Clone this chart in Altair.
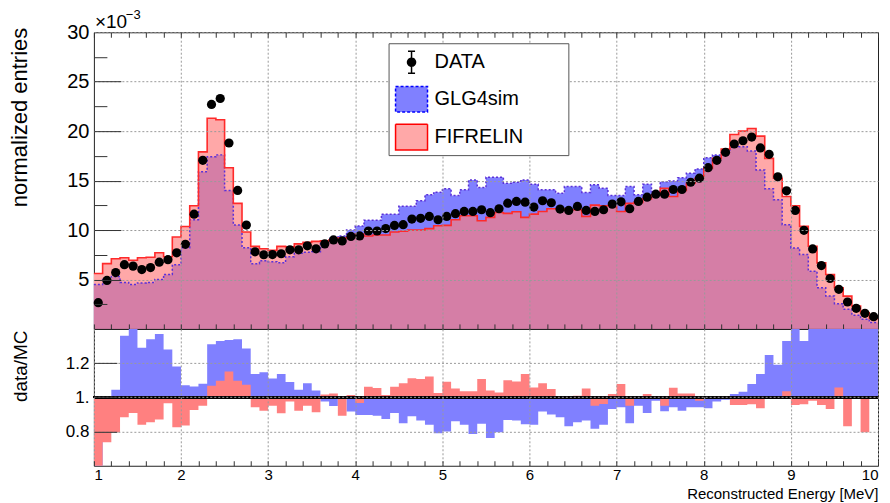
import altair as alt
import pandas as pd

# ---------------- data ----------------
N_BINS = 90
E_MIN, E_MAX = 1.0, 10.0
BIN_LO = [round(E_MIN + 0.1 * i, 1) for i in range(N_BINS)]
BIN_CENTER = [round(lo + 0.05, 2) for lo in BIN_LO]

# normalized entries (x 1e-3)
DATA = [2.65, 4.9, 5.7, 6.5, 6.35, 6.0, 6.2, 6.75, 7.0, 7.7,
        8.55, 11.6, 17.05, 22.7, 23.3, 18.8, 14.0, 10.5, 7.8, 7.5,
        7.52, 7.6, 8.0, 8.0, 8.4, 8.1, 8.6, 9.0, 8.9, 9.35,
        9.4, 9.9, 9.9, 10.15, 10.47, 10.54, 11.11, 11.18, 11.38, 11.04,
        11.38, 11.65, 11.88, 11.88, 12.05, 11.75, 12.15, 12.72, 12.89, 12.82,
        12.32, 12.96, 12.76, 12.12, 11.98, 12.39, 11.98, 11.88, 12.05, 12.62,
        12.85, 12.15, 12.89, 13.32, 13.63, 13.63, 14.1, 14.1, 14.83, 15.24,
        16.31, 17.05, 17.86, 18.7, 19.03, 19.4, 18.3, 17.66, 15.38, 13.97,
        11.98, 9.97, 8.09, 6.41, 5.1, 4.0, 2.72, 2.08, 1.58, 1.24]

GLG4SIM = [4.5, 5.0, 5.3, 4.7, 4.5, 4.65, 4.7, 5.0, 5.5, 6.5,
           8.2, 11.05, 15.9, 17.4, 17.6, 14.0, 10.5, 8.2, 6.6, 6.9,
           6.8, 6.7, 7.3, 7.65, 7.75, 7.8, 8.8, 9.2, 9.4, 10.0,
           10.4, 11.0, 11.0, 11.6, 11.6, 12.4, 12.4, 12.96, 13.56, 13.83,
           14.17, 13.5, 14.07, 15.07, 14.3, 15.34, 15.34, 14.73, 14.83, 15.07,
           14.63, 14.07, 14.07, 13.73, 14.4, 14.4, 13.8, 14.57, 14.23, 13.5,
           13.5, 14.4, 13.56, 14.63, 13.9, 14.87, 14.97, 15.29, 15.74, 16.18,
           17.3, 17.59, 18.1, 18.36, 18.43, 18.0, 16.08, 14.17, 13.06, 10.54,
           8.19, 7.52, 5.83, 4.16, 3.32, 2.55, 1.98, 1.38, 0.98, 0.64]

FIFRELIN = [5.6, 6.6, 7.1, 7.2, 6.95, 7.2, 7.25, 7.7, 7.3, 9.3,
            10.35, 12.45, 17.9, 21.3, 21.15, 16.3, 12.7, 9.8, 8.35, 8.1,
            7.95, 8.35, 8.3, 8.6, 8.75, 8.85, 8.9, 9.0, 9.2, 9.25,
            9.6, 9.4, 9.5, 9.5, 9.8, 9.87, 10.0, 10.0, 10.14, 10.44,
            10.47, 11.04, 11.45, 11.45, 10.94, 11.28, 11.78, 11.68, 11.85, 11.28,
            11.61, 11.88, 12.15, 12.15, 12.05, 12.05, 11.38, 12.52, 12.45, 12.48,
            11.88, 12.7, 12.8, 13.15, 13.56, 14.23, 13.39, 13.99, 14.73, 15.24,
            16.25, 17.25, 18.18, 19.66, 20.0, 20.27, 19.5, 17.25, 15.24, 13.39,
            12.45, 10.37, 8.36, 6.68, 5.5, 4.16, 3.32, 2.32, 1.64, 1.07]

# data/MC ratios
RATIO_GLG4SIM = [0.59, 0.97, 1.045, 1.36, 1.45, 1.29, 1.34, 1.37, 1.28, 1.18,
                 1.07, 1.063, 1.08, 1.31, 1.33, 1.335, 1.34, 1.285, 1.136, 1.146,
                 1.11, 1.136, 1.09, 1.045, 1.083, 1.04, 0.975, 0.95, 0.99, 0.917,
                 0.897, 0.897, 0.893, 0.874, 0.909, 0.849, 0.889, 0.864, 0.84, 0.79,
                 0.80, 0.86, 0.84, 0.786, 0.845, 0.763, 0.796, 0.868, 0.864, 0.843,
                 0.84, 0.917, 0.90, 0.884, 0.831, 0.854, 0.864, 0.816, 0.84, 0.932,
                 0.942, 0.849, 0.951, 0.909, 0.98, 0.918, 0.942, 0.922, 0.942, 0.942,
                 0.936, 0.975, 0.986, 1.019, 1.033, 1.078, 1.136, 1.247, 1.19, 1.33,
                 1.45, 1.33, 1.45, 1.45, 1.45, 1.45, 1.45, 1.45, 1.45, 1.45]

RATIO_FIFRELIN = [0.47, 0.738, 0.796, 0.883, 0.909, 0.84, 0.854, 0.87, 0.965, 0.825,
                  0.835, 0.926, 0.951, 1.068, 1.097, 1.151, 1.097, 1.074, 0.942, 0.922,
                  0.951, 0.907, 0.975, 0.922, 0.951, 0.913, 1.016, 1.023, 0.893, 1.014,
                  0.967, 1.062, 1.054, 1.014, 1.062, 1.083, 1.111, 1.107, 1.122, 1.025,
                  1.091, 1.052, 1.035, 1.035, 1.107, 1.04, 1.029, 1.10, 1.093, 1.136,
                  1.058, 1.083, 1.049, 1.004, 1.006, 1.01, 1.052, 0.951, 0.961, 1.019,
                  1.078, 0.951, 1.004, 1.019, 1.0, 0.951, 1.056, 1.023, 1.023, 0.98,
                  0.996, 0.99, 0.99, 0.955, 0.955, 0.959, 0.936, 1.0, 0.99, 1.035,
                  0.955, 0.959, 0.98, 0.955, 0.932, 1.058, 0.831, 1.006, 0.796, 1.0]

SERIES = ["DATA", "GLG4sim", "FIFRELIN"]
EXPONENT_BASE = "×10"
EXPONENT_POWER = "−3"

X_LABEL_TICKS = list(range(1, 11))
TOP_Y_LABELS = [5, 10, 15, 20, 25, 30]
TOP_Y_MAJOR = [5, 10, 15, 20, 25]
TOP_Y_MINOR = [2.5, 7.5, 12.5, 17.5, 22.5, 27.5]
X_MINOR = [round(1.0 + 0.2 * i, 1) for i in range(46)]
BOT_Y_LABELS = [0.8, 1.0, 1.2]

# ---------------- tables ----------------
edges = BIN_LO + [E_MAX]
step_df = pd.DataFrame({
    "E": edges,
    "glg": GLG4SIM + [GLG4SIM[-1]],
    "fif": FIFRELIN + [FIFRELIN[-1]],
    "rg": RATIO_GLG4SIM + [RATIO_GLG4SIM[-1]],
    "rf": RATIO_FIFRELIN + [RATIO_FIFRELIN[-1]],
})
pts_df = pd.DataFrame({"E": BIN_CENTER, "data": DATA})
legend_df = pd.DataFrame({"series": SERIES})

FONT = "Liberation Sans"
W, H_TOP, H_BOT = 785, 297, 137

xs = alt.Scale(domain=[E_MIN, E_MAX], nice=False, zero=False)
ys_top = alt.Scale(domain=[0, 30], nice=False)
ys_bot = alt.Scale(domain=[0.6, 1.4], nice=False, zero=False)

TICK_COLOR = "#333333"
GRID = dict(grid=True, gridDash=[2, 2], gridColor="#9a9a9a", gridWidth=1)


def tick_axis(orient, values, size):
    return alt.Axis(orient=orient, values=values, offset=-size, tickSize=size,
                    labels=False, domain=False, grid=False, title=None, minExtent=0,
                    ticks=True, tickColor=TICK_COLOR, tickWidth=1, zindex=1)


# ---------------- top panel ----------------
base_top = alt.Chart(step_df)

glg_fill = base_top.mark_area(interpolate="step-after", color="#8080ff", opacity=1).encode(
    x=alt.X("E:Q", scale=xs,
            axis=alt.Axis(orient="bottom", values=list(range(2, 10)), labels=False, ticks=False,
                          domain=False, title=None, zindex=1, minExtent=0, **GRID)),
    y=alt.Y("glg:Q", scale=ys_top,
            axis=alt.Axis(orient="left", values=TOP_Y_LABELS, ticks=False, domain=False,
                          labelFontSize=20, labelPadding=5, labelFont=FONT, labelColor="black",
                          title="normalized entries", titleFontSize=22, titleFont=FONT,
                          titleFontWeight="normal", titleColor="black",
                          titleAnchor="end", titleAlign="right", titleAngle=270,
                          titleBaseline="middle", titleX=-74, titleY=-5, minExtent=0,
                          zindex=1, **GRID)),
)

fif_fill = base_top.mark_area(interpolate="step-after", color="#ffa8a8", opacity=1).encode(
    x=alt.X("E:Q", scale=xs, axis=tick_axis("bottom", X_MINOR, 5)),
    y=alt.Y("fif:Q", scale=ys_top, axis=tick_axis("left", TOP_Y_MAJOR, 27)),
)

overlap_fill = base_top.transform_calculate(ov="min(datum.glg, datum.fif)").mark_area(
    interpolate="step-after", color="#d57ea6", opacity=1).encode(
    x=alt.X("E:Q", scale=xs, axis=tick_axis("top", X_MINOR, 5)),
    y=alt.Y("ov:Q", scale=ys_top, axis=tick_axis("left", TOP_Y_MINOR, 13)),
)

glg_line = base_top.mark_line(interpolate="step-after", color="#5a30d8", strokeDash=[2, 2],
                              strokeWidth=1.5).encode(
    x=alt.X("E:Q", scale=xs, axis=None),
    y=alt.Y("glg:Q", scale=ys_top, axis=None),
)

fif_line = base_top.mark_line(interpolate="step-after", color="#ff2a2a", strokeWidth=1.6).encode(
    x=alt.X("E:Q", scale=xs, axis=None),
    y=alt.Y("fif:Q", scale=ys_top, axis=None),
)

points = alt.Chart(pts_df).mark_circle(size=85, color="black", opacity=1).encode(
    x=alt.X("E:Q", scale=xs, axis=None),
    y=alt.Y("data:Q", scale=ys_top, axis=None),
)

# exponent label of the y axis (x10^-3), drawn above the frame
expo_base = alt.Chart(pd.DataFrame({"t": [EXPONENT_BASE]})).mark_text(
    align="left", baseline="alphabetic", fontSize=19, font=FONT, color="black").encode(
    x=alt.value(1), y=alt.value(-4), text="t:N")
expo_power = alt.Chart(pd.DataFrame({"t": [EXPONENT_POWER]})).mark_text(
    align="left", baseline="alphabetic", fontSize=13, font=FONT, color="black").encode(
    x=alt.value(32), y=alt.value(-13), text="t:N")

# legend symbols (unit square -1..1 maps to 32 px); the trailing move-to widens the box
BOX_EXTEND = "M9.5,0"
DATA_SYMBOL = ("M-0.25,0A0.25,0.25,0,1,0,0.25,0A0.25,0.25,0,1,0,-0.25,0Z"
               "M0,-0.69L0,0.69M-0.22,-0.69L0.22,-0.69M-0.22,0.69L0.22,0.69" + BOX_EXTEND)
BOX_SYMBOL = "M-1,-0.8L1,-0.8L1,0.8L-1,0.8Z" + BOX_EXTEND

leg_props = dict(title=None, orient="none", legendX=295, legendY=11, direction="vertical",
                 symbolSize=1024, symbolStrokeWidth=1.5, symbolOffset=4,
                 labelFontSize=20, labelFont=FONT,
                 labelColor="black", labelOffset=6, rowPadding=5, padding=2,
                 strokeColor="#555555", fillColor="white", cornerRadius=0, labelLimit=300)

legend_layer = alt.Chart(legend_df).transform_filter("false").mark_point(
    filled=True, opacity=1).encode(
    fill=alt.Fill("series:N", scale=alt.Scale(domain=SERIES, range=["#000000", "#8080ff", "#ffa8a8"]),
                  legend=alt.Legend(**leg_props)),
    stroke=alt.Stroke("series:N", scale=alt.Scale(domain=SERIES, range=["#000000", "#0000ff", "#ff0000"]),
                      legend=alt.Legend(**leg_props)),
    shape=alt.Shape("series:N", scale=alt.Scale(domain=SERIES, range=[DATA_SYMBOL, BOX_SYMBOL, BOX_SYMBOL]),
                    legend=alt.Legend(**leg_props)),
    strokeDash=alt.StrokeDash("series:N", scale=alt.Scale(domain=SERIES, range=[[1, 0], [3, 2], [1, 0]]),
                              legend=alt.Legend(**leg_props)),
)

top = alt.layer(glg_fill, fif_fill, overlap_fill, glg_line, fif_line, points,
                expo_base, expo_power, legend_layer).properties(
    width=W, height=H_TOP,
).resolve_axis(x="independent", y="independent")

# ---------------- bottom panel ----------------
base_bot = alt.Chart(step_df)

blue_ratio = base_bot.mark_area(interpolate="step-after", color="#8080ff", opacity=1, clip=True).encode(
    x=alt.X("E:Q", scale=xs,
            axis=alt.Axis(orient="bottom", values=X_LABEL_TICKS, ticks=False, domain=False,
                          labelFontSize=15, labelFont=FONT, labelColor="black", labelPadding=2,
                          labelOverlap=False, minExtent=0,
                          title="Reconstructed Energy [MeV]", titleFontSize=15, titleFont=FONT,
                          titleFontWeight="normal", titleColor="black", titleAnchor="end",
                          titleAlign="right", titleX=W, titleY=33, titleBaseline="alphabetic",
                          zindex=1, **GRID)),
    y=alt.Y("rg:Q", scale=ys_bot,
            axis=alt.Axis(orient="left", values=BOT_Y_LABELS, ticks=False, domain=False,
                          labelExpr="datum.value == 1 ? '1.' : format(datum.value, '.1f')",
                          labelFontSize=17, labelFont=FONT, labelColor="black", labelPadding=5,
                          title="data/MC", titleFontSize=19, titleFont=FONT, titleFontWeight="normal",
                          titleColor="black", titleAnchor="end", titleAlign="right", titleAngle=270,
                          titleBaseline="middle", titleX=-73, titleY=1, minExtent=0,
                          zindex=1, **GRID)),
    y2=alt.datum(1),
)

red_ratio = base_bot.mark_area(interpolate="step-after", color="#ff8080", opacity=1, clip=True).encode(
    x=alt.X("E:Q", scale=xs, axis=tick_axis("bottom", X_MINOR, 5)),
    y=alt.Y("rf:Q", scale=ys_bot, axis=tick_axis("left", BOT_Y_LABELS, 23)),
    y2=alt.datum(1),
)

unity = base_bot.mark_rule(color="black", strokeWidth=1.6).encode(
    y=alt.Y(datum=1, scale=ys_bot, axis=None),
)

bottom = alt.layer(blue_ratio, red_ratio, unity).properties(
    width=W, height=H_BOT
).resolve_axis(x="independent", y="independent")

chart = alt.vconcat(top, bottom, spacing=0, bounds="flush").properties(
    padding=0, background="white"
).configure_view(stroke="#222222", strokeWidth=1)

chart.save("out.html", embed_options={"renderer": "svg", "actions": False})
